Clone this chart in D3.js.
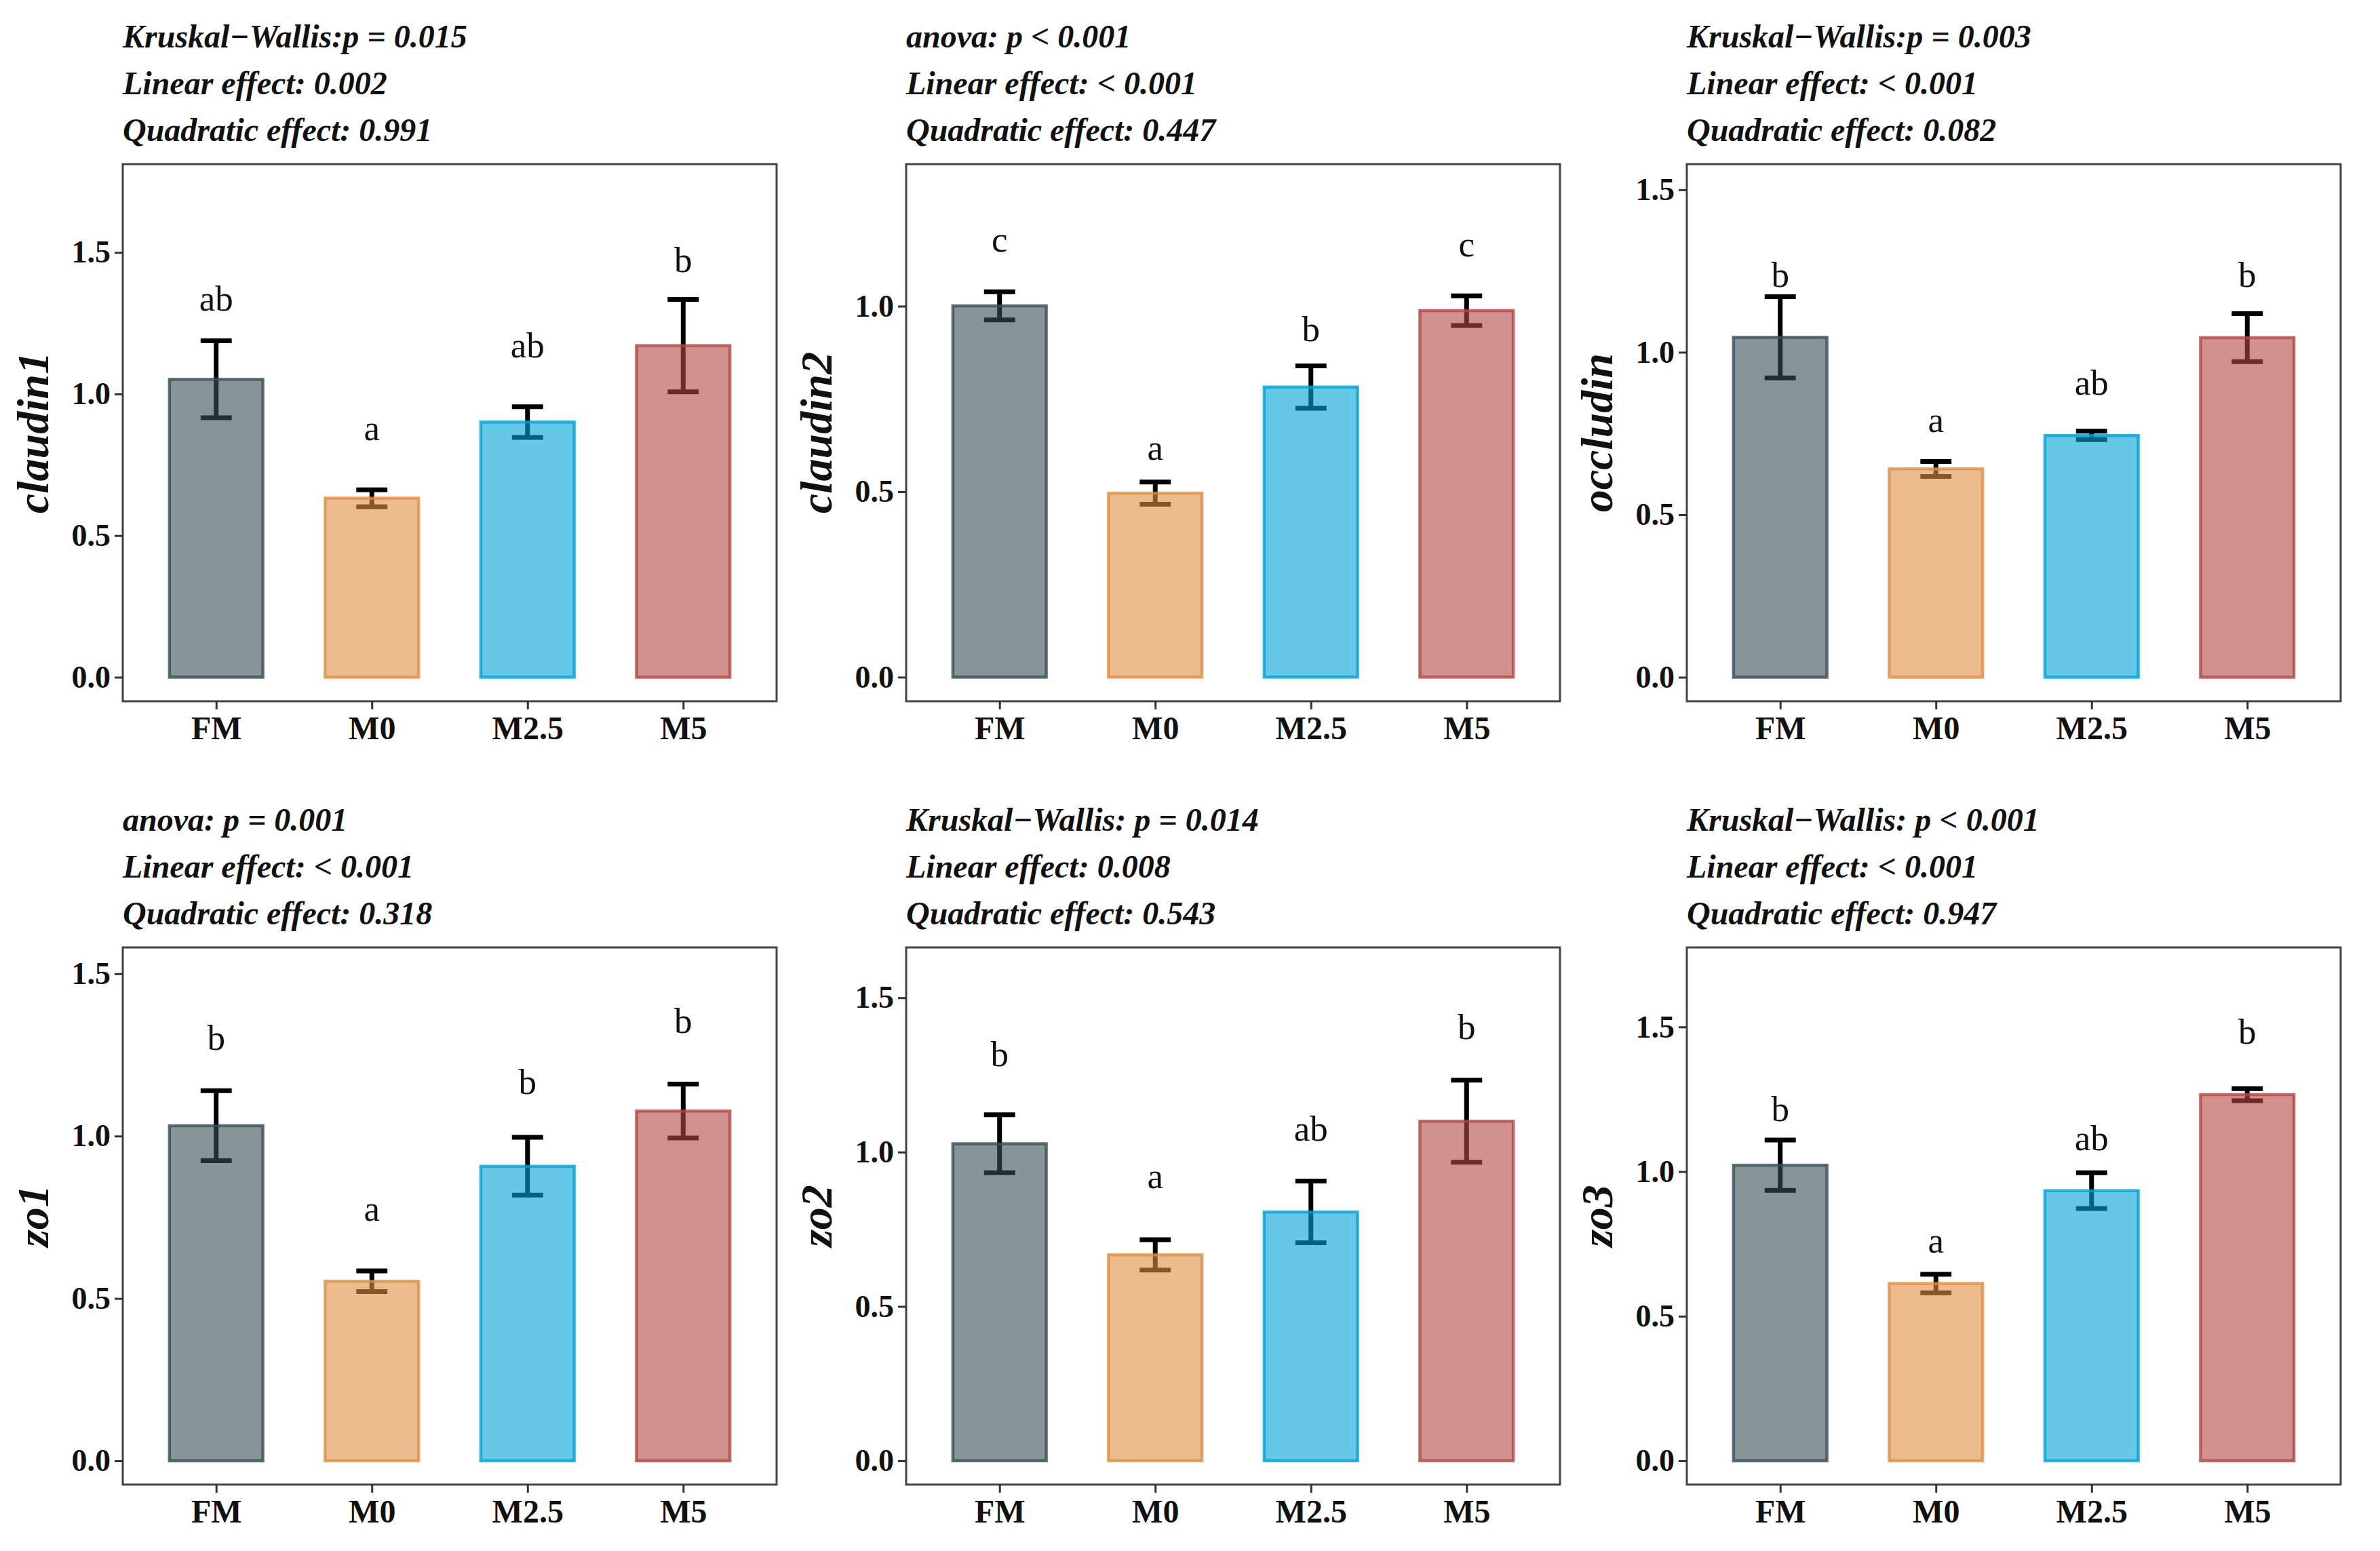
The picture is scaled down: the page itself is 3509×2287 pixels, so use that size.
<!DOCTYPE html>
<html>
<head>
<meta charset="utf-8">
<script src="https://cdn.jsdelivr.net/npm/d3@7"></script>
<style>
  body { margin: 0; background: #fff; }
  text { font-family: "Liberation Serif", "Times New Roman", serif; }
</style>
</head>
<body>
<svg id="chart" width="3509" height="2287"></svg>
<script>
// groups and colours (ggsci JAMA palette)
const groups = ["FM", "M0", "M2.5", "M5"];
const colors = ["#374E55", "#DF8F44", "#00A1D5", "#B24745"];

const genes = ["claudin1", "claudin2", "occludin", "zo1", "zo2", "zo3"];

// mean relative expression per gene, per group
const means = [
    [1.052, 0.632, 0.901, 1.171],
    [1.001, 0.496, 0.782, 0.988],
    [1.046, 0.641, 0.744, 1.045],
    [1.032, 0.553, 0.907, 1.077],
    [1.027, 0.667, 0.806, 1.100],
    [1.022, 0.613, 0.934, 1.266]
];

// standard errors
const errors = [
    [0.136, 0.030, 0.054, 0.163],
    [0.038, 0.030, 0.057, 0.040],
    [0.125, 0.023, 0.013, 0.074],
    [0.108, 0.032, 0.089, 0.083],
    [0.094, 0.049, 0.100, 0.133],
    [0.087, 0.032, 0.062, 0.021]
];

// significance letters and the y value they sit at
const letters = [
    ["ab", "a", "ab", "b"],
    ["c", "a", "b", "c"],
    ["b", "a", "ab", "b"],
    ["b", "a", "b", "b"],
    ["b", "a", "ab", "b"],
    ["b", "a", "ab", "b"]
];
const letterY = [
    [1.294, 0.836, 1.129, 1.430],
    [1.148, 0.586, 0.906, 1.134],
    [1.201, 0.755, 0.870, 1.201],
    [1.266, 0.740, 1.129, 1.318],
    [1.279, 0.883, 1.036, 1.367],
    [1.174, 0.720, 1.075, 1.442]
];

// y axis limits and ticks per panel
const yLow = [-0.085, -0.065, -0.074, -0.073, -0.077, -0.082];
const yHigh = [1.812, 1.383, 1.579, 1.581, 1.663, 1.775];
const yTicks = [
    [0, 0.5, 1.0, 1.5],
    [0, 0.5, 1.0],
    [0, 0.5, 1.0, 1.5],
    [0, 0.5, 1.0, 1.5],
    [0, 0.5, 1.0, 1.5],
    [0, 0.5, 1.0, 1.5]
];

const headers = [
    ["Kruskal\u2212Wallis:p = 0.015", "Linear effect: 0.002", "Quadratic effect: 0.991"],
    ["anova: p < 0.001", "Linear effect: < 0.001", "Quadratic effect: 0.447"],
    ["Kruskal\u2212Wallis:p = 0.003", "Linear effect: < 0.001", "Quadratic effect: 0.082"],
    ["anova: p = 0.001", "Linear effect: < 0.001", "Quadratic effect: 0.318"],
    ["Kruskal\u2212Wallis: p = 0.014", "Linear effect: 0.008", "Quadratic effect: 0.543"],
    ["Kruskal\u2212Wallis: p < 0.001", "Linear effect: < 0.001", "Quadratic effect: 0.947"]
];

const svg = d3.select("#chart");

const panelLeft = [181, 1336, 2487];
const panelTop = [242, 1397];
const panelW = 964;
const panelH = 792;

genes.forEach((gene, i) => {
    const col = i % 3;
    const row = Math.floor(i / 3);
    const g = svg.append("g")
        .attr("transform", `translate(${panelLeft[col]},${panelTop[row]})`);

    const x = d3.scalePoint().domain(groups).range([0, panelW]).padding(0.6);
    const step = x.step();
    const y = d3.scaleLinear().domain([yLow[i], yHigh[i]]).range([panelH, 0]);

    const rows = groups.map((grp, j) => ({
        grp, color: colors[j], mean: means[i][j], se: errors[i][j],
        letter: letters[i][j], ly: letterY[i][j]
    }));

    // header: test results, three lines
    const head = g.append("text")
        .attr("x", 0)
        .attr("font-size", 48)
        .attr("font-weight", "bold")
        .attr("font-style", "italic")
        .attr("fill", "#111");
    headers[i].forEach((line, k) => {
        head.append("tspan").attr("x", 0).attr("y", -172 + k * 69).text(line);
    });

    // error bars (drawn under the translucent bars)
    const eb = g.append("g").attr("stroke", "#000").attr("stroke-width", 7).attr("fill", "none");
    rows.forEach(d => {
        const cx = x(d.grp);
        const hw = step * 0.1;
        eb.append("line").attr("x1", cx).attr("x2", cx)
            .attr("y1", y(d.mean + d.se)).attr("y2", y(d.mean - d.se));
        eb.append("line").attr("x1", cx - hw).attr("x2", cx + hw)
            .attr("y1", y(d.mean + d.se)).attr("y2", y(d.mean + d.se));
        eb.append("line").attr("x1", cx - hw).attr("x2", cx + hw)
            .attr("y1", y(d.mean - d.se)).attr("y2", y(d.mean - d.se));
    });

    // bars
    g.append("g").selectAll("rect")
        .data(rows)
        .enter().append("rect")
        .attr("x", d => x(d.grp) - step * 0.3)
        .attr("width", step * 0.6)
        .attr("y", d => y(d.mean))
        .attr("height", d => y(0) - y(d.mean))
        .attr("fill", d => d.color)
        .attr("fill-opacity", 0.6)
        .attr("stroke", d => d.color)
        .attr("stroke-opacity", 0.8)
        .attr("stroke-width", 4.5);

    // significance letters
    g.append("g").selectAll("text")
        .data(rows)
        .enter().append("text")
        .attr("x", d => x(d.grp))
        .attr("y", d => y(d.ly))
        .attr("text-anchor", "middle")
        .attr("font-size", 53)
        .attr("fill", "#111")
        .text(d => d.letter);

    // panel border
    g.append("rect")
        .attr("width", panelW).attr("height", panelH)
        .attr("fill", "none").attr("stroke", "#444").attr("stroke-width", 3);

    // axes
    const yAxis = g.append("g")
        .call(d3.axisLeft(y).tickValues(yTicks[i]).tickFormat(d3.format(".1f")).tickSize(12).tickPadding(6));
    yAxis.select(".domain").remove();
    yAxis.selectAll("line").attr("stroke", "#333").attr("stroke-width", 3);
    yAxis.selectAll("text")
        .attr("font-size", 46).attr("font-weight", "bold").attr("fill", "#111")
        .style("font-family", "'Liberation Serif', serif");

    const xAxis = g.append("g")
        .attr("transform", `translate(0,${panelH})`)
        .call(d3.axisBottom(x).tickSize(12).tickPadding(10));
    xAxis.select(".domain").remove();
    xAxis.selectAll("line").attr("stroke", "#333").attr("stroke-width", 3);
    xAxis.selectAll("text")
        .attr("font-size", 48).attr("font-weight", "bold").attr("fill", "#111")
        .style("font-family", "'Liberation Serif', serif");

    // y axis title
    g.append("text")
        .attr("transform", `translate(-110,${panelH / 2}) rotate(-90)`)
        .attr("text-anchor", "middle")
        .attr("font-size", 66)
        .attr("font-weight", "bold")
        .attr("font-style", "italic")
        .attr("fill", "#111")
        .text(gene);
});
</script>
</body>
</html>
